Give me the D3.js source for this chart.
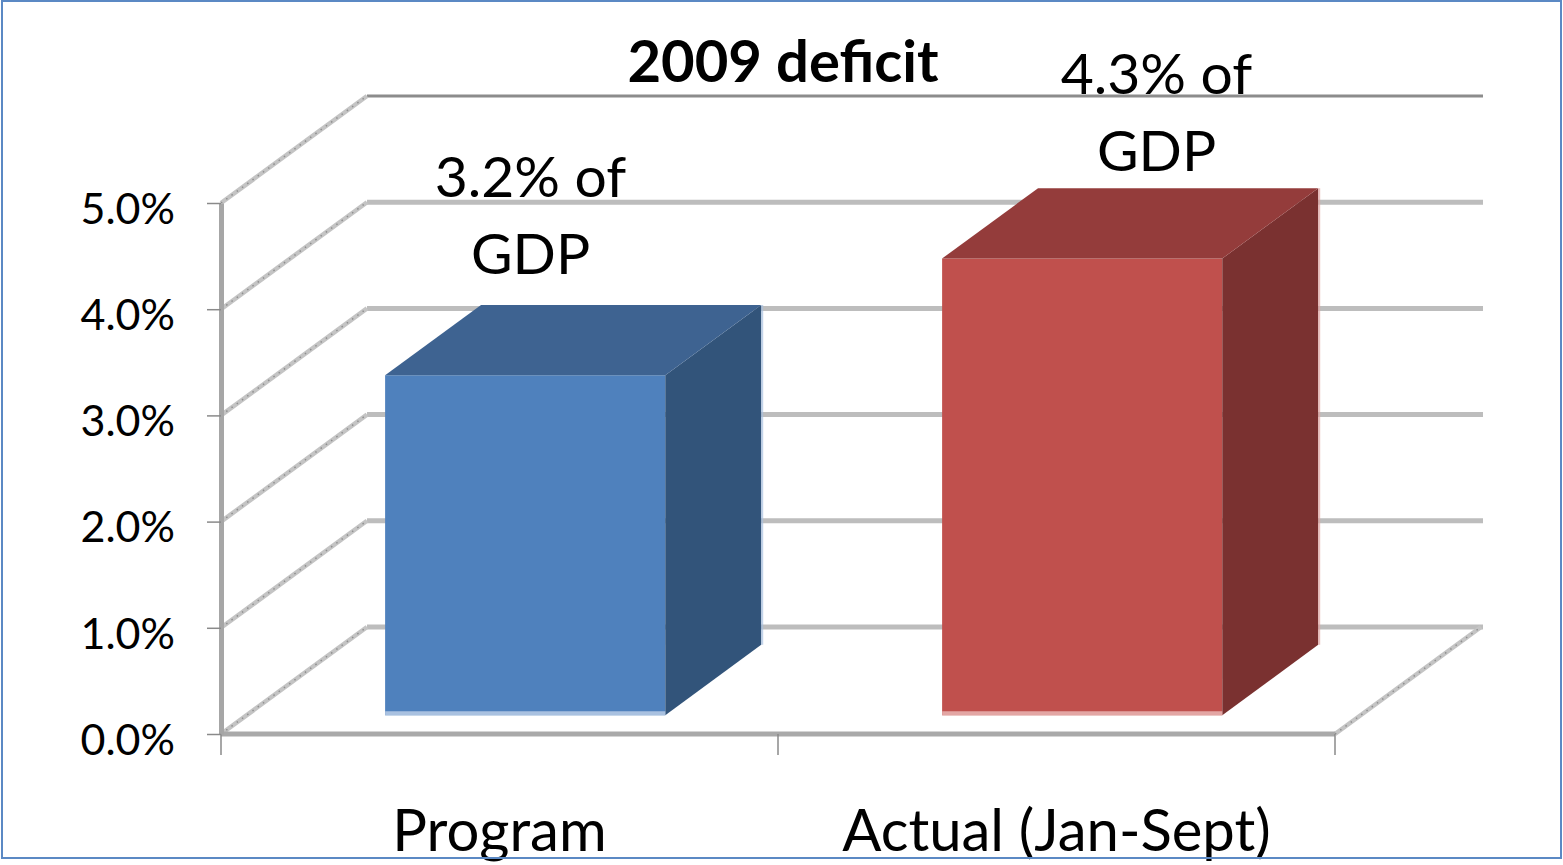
<!DOCTYPE html>
<html>
<head>
<meta charset="utf-8">
<script src="https://cdn.jsdelivr.net/npm/d3@7"></script>
<style>
  body { margin: 0; background: #fff; }
  svg { display: block; font-family: Lato, "Open Sans", sans-serif; }
</style>
</head>
<body>
<svg id="chart"></svg>
<script>
// *** Data ***
var categories = ["Program", "Actual (Jan-Sept)"];
var values = [0.032, 0.043];
var labelLines = [["3.2% of", "GDP"], ["4.3% of", "GDP"]];
var yTicks = [0, 0.01, 0.02, 0.03, 0.04, 0.05];
var title = "2009 deficit";

// *** Layout ***
var width = 1563, height = 865;
var DX = 146, DY = -107;           // full depth of the 3d box
var zFront = 0.176, zBack = 0.833;  // depth of the bars
var barShare = 0.503;               // bar width / category band

var svg = d3.select("#chart")
    .attr("width", width)
    .attr("height", height);

var x = d3.scaleBand()
    .domain(categories)
    .range([221, 1335])
    .padding(0);

var y = d3.scaleLinear()
    .domain([0, 0.05])
    .range([734, 203]);

// project a point (front-plane x, value, depth 0..1)
function P(px, v, z) {
    return [px + z * DX, y(v) + z * DY];
}

// *** back wall gridlines ***
svg.append("g").selectAll("line")
    .data(yTicks)
    .enter()
    .append("line")
    .attr("x1", x.range()[0] + DX)
    .attr("x2", x.range()[1] + DX + 2)
    .attr("y1", function (d) { return y(d) + DY; })
    .attr("y2", function (d) { return y(d) + DY; })
    .attr("stroke", function (d) { return d === 0.05 ? "#8c8c8c" : "#bdbdbd"; })
    .attr("stroke-width", function (d) { return d === 0.05 ? 3 : 5; });

// *** side wall diagonals + floor right edge ***
var diag = yTicks.map(function (d) { return { x: x.range()[0], v: d }; });
diag.push({ x: x.range()[1], v: 0 });

var dg = svg.append("g");
dg.selectAll("line.base")
    .data(diag)
    .enter()
    .append("line")
    .attr("class", "base")
    .attr("x1", function (d) { return P(d.x, d.v, 0)[0]; })
    .attr("y1", function (d) { return P(d.x, d.v, 0)[1]; })
    .attr("x2", function (d) { return P(d.x, d.v, 1)[0]; })
    .attr("y2", function (d) { return P(d.x, d.v, 1)[1]; })
    .attr("stroke", "#c4c4c4")
    .attr("stroke-width", 4.5);
dg.selectAll("line.hatch")
    .data(diag)
    .enter()
    .append("line")
    .attr("class", "hatch")
    .attr("x1", function (d) { return P(d.x, d.v, 0)[0]; })
    .attr("y1", function (d) { return P(d.x, d.v, 0)[1]; })
    .attr("x2", function (d) { return P(d.x, d.v, 1)[0]; })
    .attr("y2", function (d) { return P(d.x, d.v, 1)[1]; })
    .attr("stroke", "#8f8f8f")
    .attr("stroke-width", 1.5)
    .attr("stroke-dasharray", "1.5,5");

// *** floor front edge ***
svg.append("line")
    .attr("x1", x.range()[0])
    .attr("x2", x.range()[1])
    .attr("y1", y(0))
    .attr("y2", y(0))
    .attr("stroke", "#a9a9a9")
    .attr("stroke-width", 5);

// category ticks at band edges
var edges = categories.map(function (c) { return x(c); }).concat([x.range()[1]]);
svg.append("g").selectAll("line")
    .data(edges)
    .enter()
    .append("line")
    .attr("x1", function (d) { return d; })
    .attr("x2", function (d) { return d; })
    .attr("y1", y(0))
    .attr("y2", y(0) + 21)
    .attr("stroke", "#8a8a8a")
    .attr("stroke-width", 1.5);

// *** value axis ***
var yAxis = d3.axisLeft(y)
    .tickValues(yTicks)
    .tickFormat(d3.format(".1%"))
    .tickSize(14)
    .tickSizeOuter(0)
    .tickPadding(32);

var ax = svg.append("g")
    .attr("transform", "translate(" + x.range()[0] + ",0)")
    .call(yAxis);
ax.select(".domain")
    .attr("stroke", "#a6a6a6")
    .attr("stroke-width", 5);
ax.selectAll(".tick line")
    .attr("stroke", "#8a8a8a")
    .attr("stroke-width", 1.5);
ax.selectAll(".tick text")
    .attr("dy", "0.47em")
    .attr("fill", "#000")
    .style("font-family", "Lato, sans-serif")
    .style("font-size", "43px");

// *** bars ***
var fills = [
    { front: "#4f81bd", top: "#3e6391", side: "#32547a", edge: "#a9c1e0" },
    { front: "#c0504d", top: "#943c3b", side: "#7a3130", edge: "#e3a6a4" }
];

var bars = svg.selectAll("g.bar")
    .data(values)
    .enter()
    .append("g")
    .attr("class", "bar");

function barX(i) {
    var c = x(categories[i]) + x.bandwidth() / 2;
    var w = x.bandwidth() * barShare;
    return [c - w / 2, c + w / 2];
}
function poly(pts) {
    return pts.map(function (p) { return p.join(","); }).join(" ");
}

bars.append("polygon") // front
    .attr("points", function (d, i) {
        var bx = barX(i);
        return poly([P(bx[0], 0, zFront), P(bx[1], 0, zFront), P(bx[1], d, zFront), P(bx[0], d, zFront)]);
    })
    .attr("fill", function (d, i) { return fills[i].front; });

bars.append("polygon") // side
    .attr("points", function (d, i) {
        var bx = barX(i);
        return poly([P(bx[1], 0, zFront), P(bx[1], 0, zBack), P(bx[1], d, zBack), P(bx[1], d, zFront)]);
    })
    .attr("fill", function (d, i) { return fills[i].side; });

bars.append("polygon") // top
    .attr("points", function (d, i) {
        var bx = barX(i);
        return poly([P(bx[0], d, zFront), P(bx[1], d, zFront), P(bx[1], d, zBack), P(bx[0], d, zBack)]);
    })
    .attr("fill", function (d, i) { return fills[i].top; });

bars.append("line") // light bottom edge
    .attr("x1", function (d, i) { return P(barX(i)[0], 0, zFront)[0]; })
    .attr("x2", function (d, i) { return P(barX(i)[1], 0, zFront)[0]; })
    .attr("y1", P(0, 0, zFront)[1] - 2)
    .attr("y2", P(0, 0, zFront)[1] - 2)
    .attr("stroke", function (d, i) { return fills[i].edge; })
    .attr("stroke-width", 4);

bars.append("line") // light right edge of side face
    .attr("x1", function (d, i) { return P(barX(i)[1], 0, zBack)[0] + 1; })
    .attr("x2", function (d, i) { return P(barX(i)[1], d, zBack)[0] + 1; })
    .attr("y1", function (d) { return P(0, 0, zBack)[1]; })
    .attr("y2", function (d) { return P(0, d, zBack)[1]; })
    .attr("stroke", function (d, i) { return fills[i].edge; })
    .attr("stroke-width", 2)
    .attr("opacity", 0.7);

// *** data labels ***
var labelNudge = [[31, -120], [100, -106]];
var lab = svg.selectAll("g.lab")
    .data(values)
    .enter()
    .append("g")
    .attr("class", "lab")
    .attr("transform", function (d, i) {
        var cx = x(categories[i]) + x.bandwidth() / 2 + labelNudge[i][0];
        return "translate(" + cx + "," + (y(d) + labelNudge[i][1]) + ")";
    });
lab.selectAll("text")
    .data(function (d, i) { return labelLines[i]; })
    .enter()
    .append("text")
    .attr("text-anchor", "middle")
    .attr("y", function (d, j) { return (j - 1) * 77; })
    .style("font-size", "57px")
    .text(function (d) { return d; });

// *** category labels ***
svg.append("g").selectAll("text")
    .data(categories)
    .enter()
    .append("text")
    .attr("x", function (d) { return x(d) + x.bandwidth() / 2; })
    .attr("y", 851)
    .attr("text-anchor", "middle")
    .style("font-size", "58px")
    .text(function (d) { return d; });

// *** title ***
svg.append("text")
    .attr("x", 783)
    .attr("y", 82)
    .attr("text-anchor", "middle")
    .style("font-size", "58px")
    .style("font-weight", "bold")
    .text(title);

// *** outer border ***
svg.append("rect")
    .attr("x", 2)
    .attr("y", 1)
    .attr("width", width - 4)
    .attr("height", 857)
    .attr("fill", "none")
    .attr("stroke", "#5b89c4")
    .attr("stroke-width", 2);
</script>
</body>
</html>
